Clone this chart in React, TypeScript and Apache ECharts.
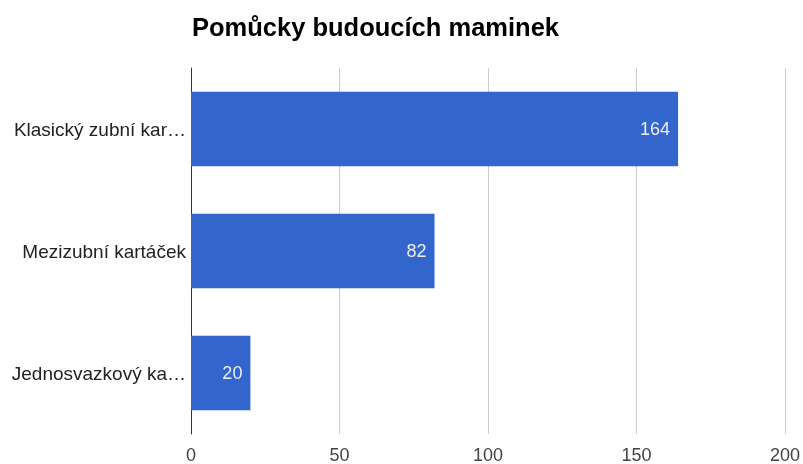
import React, { useEffect, useRef } from "react";
import * as echarts from "echarts";

const categories = ["Klasický zubní kar…", "Mezizubní kartáček", "Jednosvazkový ka…"];
const values = [164, 82, 20];
const xTicks = [0, 50, 100, 150, 200];

const FONT = "Liberation Sans, Arial, sans-serif";

export default function App() {
  const ref = useRef<HTMLDivElement>(null);
  useEffect(() => {
    const chart = echarts.init(ref.current!, null, { renderer: "svg" });
    chart.setOption({
      animation: false,
      textStyle: { fontFamily: FONT },
      title: {
        text: "Pomůcky budoucích maminek",
        left: 187,
        top: 9,
        textStyle: { fontSize: 25.5, fontWeight: "bold", color: "#000", fontFamily: FONT },
      },
      grid: { left: 191, right: 16, top: 68, bottom: 30, containLabel: false },
      xAxis: {
        type: "value",
        min: xTicks[0],
        max: xTicks[xTicks.length - 1],
        interval: 50,
        axisLine: { show: false },
        axisTick: { show: false },
        splitLine: { lineStyle: { color: "#cccccc", width: 1 } },
        axisLabel: { color: "#444", fontSize: 18, margin: 12 },
      },
      yAxis: {
        type: "category",
        inverse: true,
        data: categories,
        axisLine: { show: true, lineStyle: { color: "#333", width: 1 } },
        axisTick: { show: false },
        axisLabel: {
          color: "#222",
          fontSize: 19,
          margin: 5,
        },
      },
      series: [
        {
          type: "bar",
          data: values,
          barCategoryGap: "39%",
          itemStyle: { color: "#3366cc" },
          label: {
            show: true,
            position: "insideRight",
            color: "#eeeeee",
            fontSize: 18,
            distance: 8,
          },
        },
      ],
    });
    return () => chart.dispose();
  }, []);
  return (
    <div
      ref={ref}
      style={{ position: "fixed", left: 0, top: 0, width: 803, height: 464 }}
    />
  );
}
